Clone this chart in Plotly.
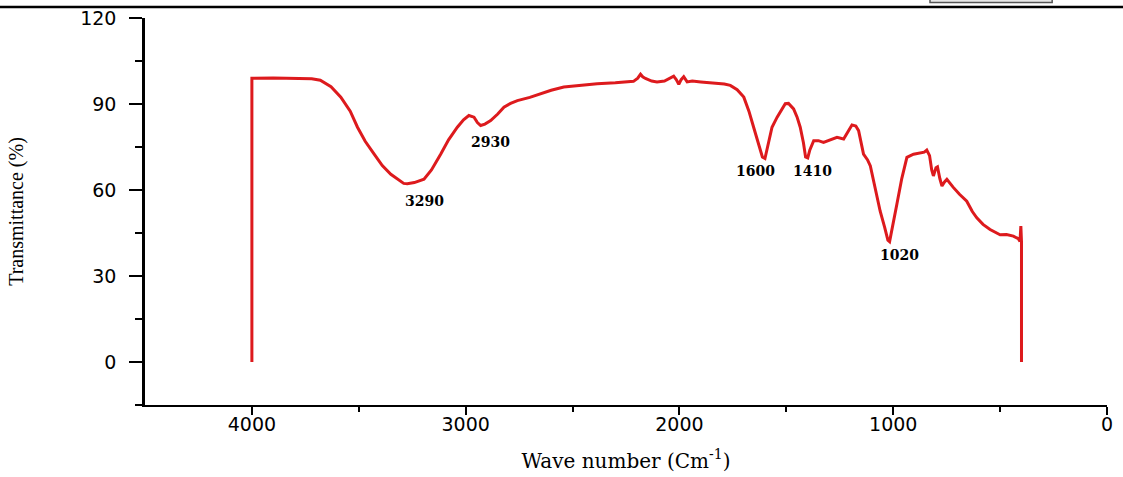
import plotly.graph_objects as go

wavenumber = [4000, 4000, 3900, 3800, 3720, 3680, 3630, 3584, 3540, 3506, 3470, 3428, 3390, 3350, 3310,
              3290, 3273, 3240, 3195, 3160, 3117, 3080, 3039, 3010, 2985, 2961, 2945, 2930, 2910, 2883,
              2850, 2821, 2790, 2758, 2700, 2650, 2600, 2541, 2460, 2385, 2300, 2245, 2215, 2195, 2182,
              2172, 2159, 2130, 2105, 2070, 2040, 2027, 2015, 2003, 1992, 1980, 1964, 1940, 1900, 1840,
              1790, 1762, 1730, 1699, 1675, 1653, 1630, 1612, 1600, 1590, 1567, 1543, 1520, 1505, 1490,
              1466, 1450, 1435, 1420, 1410, 1400, 1390, 1372, 1350, 1326, 1295, 1263, 1232, 1210, 1193,
              1175, 1162, 1139, 1120, 1107, 1085, 1061, 1040, 1025, 1017, 1005, 983, 960, 936, 905,
              874, 855, 843, 830, 820, 812, 800, 793, 782, 772, 760, 749, 720, 690, 656,
              630, 609, 580, 547, 520, 500, 470, 438, 415, 407, 403, 401, 400, 400]
transmittance = [0, 99, 99.1, 99, 98.8, 98.3, 96, 92.4, 87.5, 81.9, 77, 72.5, 68.5, 65.5, 63.2,
                 62.3, 62.2, 62.6, 63.8, 67, 72.5, 77.5, 81.9, 84.5, 86, 85.4, 83.5, 82.5, 83, 84.2,
                 86.5, 88.9, 90.2, 91.2, 92.3, 93.6, 94.8, 95.9, 96.5, 97.1, 97.4, 97.7, 97.9, 99, 100.4,
                 99.5, 98.9, 98, 97.7, 98, 99.4, 99.7, 98.5, 96.9, 98.5, 99.5, 97.7, 98, 97.7, 97.4,
                 97, 96.5, 95, 92.4, 87.5, 81.9, 76, 71.5, 71, 74, 81.9, 85.4, 88.5, 90.1, 90.2,
                 88.3, 85.5, 81.9, 76.5, 71.5, 71.2, 74, 77.2, 77.2, 76.6, 77.5, 78.4, 77.8, 80.5, 82.7,
                 82.3, 80.7, 72.5, 70.5, 68.4, 61, 52.6, 47, 42.5, 42, 47, 55, 64, 71.4, 72.5,
                 73.1, 73.2, 73.9, 72, 67, 64.9, 67.8, 68.1, 64, 61.4, 62.8, 63.7, 61, 58.5, 56.1,
                 52.5, 50.3, 48, 46.2, 45, 44.4, 44.5, 43.9, 43, 42.1, 47.4, 43, 42, 0]

peak_labels = ["3290", "2930", "1600", "1410", "1020"]
peak_label_x = [3192, 2883, 1645, 1379, 969]
peak_label_y = [56.1, 76.6, 66.7, 66.7, 37.2]

fig = go.Figure()
fig.add_trace(go.Scatter(
    x=wavenumber, y=transmittance, mode="lines",
    line=dict(color="#dd1a1d", width=3), showlegend=False, hoverinfo="skip"))

for lab, lx, ly in zip(peak_labels, peak_label_x, peak_label_y):
    fig.add_annotation(x=lx, y=ly, text=f"<b>{lab}</b>", showarrow=False,
                       font=dict(family="DejaVu Serif", size=14, color="black"))

fig.update_layout(
    width=1123, height=477,
    margin=dict(l=145, r=16, t=18, b=72, autoexpand=False),
    plot_bgcolor="white", paper_bgcolor="white",
    xaxis=dict(
        range=[4500, 0], tickvals=[4000, 3000, 2000, 1000, 0],
        showgrid=False, zeroline=False,
        showline=True, linecolor="black", linewidth=1.5,
        ticks="outside", ticklen=8, tickwidth=2, tickcolor="black",
        minor=dict(tickvals=[3500, 2500, 1500, 500], ticks="outside", ticklen=5, tickwidth=2, tickcolor="black"),
        tickfont=dict(family="DejaVu Sans", size=19, color="black"),
        ticklabelstandoff=-7,
        title=dict(text="Wave number (Cm<sup>-1</sup>)", standoff=20,
                   font=dict(family="DejaVu Serif", size=20, color="black")),
    ),
    yaxis=dict(
        range=[-15, 120], tickvals=[0, 30, 60, 90, 120],
        showgrid=False, zeroline=False,
        showline=True, linecolor="black", linewidth=2.5,
        ticks="outside", ticklen=13, tickwidth=1.5, tickcolor="black",
        minor=dict(tickvals=[-15, 15, 45, 75, 105], ticks="outside", ticklen=7, tickwidth=1.5, tickcolor="black"),
        tickfont=dict(family="DejaVu Sans", size=19, color="black"),
        ticklabelstandoff=9,
        title=dict(text="Transmittance (%)", standoff=52,
                   font=dict(family="Liberation Serif", size=20, color="black")),
    ),
    shapes=[
        dict(type="line", xref="paper", yref="paper", x0=-0.16, x1=1.02, y0=1.0284, y1=1.0284,
             line=dict(color="black", width=2.5)),
        dict(type="rect", xref="paper", yref="paper", x0=0.816, x1=0.943, y0=1.04, y1=1.06,
             line=dict(color="#555555", width=1.5), fillcolor="#e8e8e8"),
    ],
)

fig.write_html("out.html", config={"displayModeBar": False},
               post_script="document.body.style.margin='0';document.body.style.overflow='hidden';")
